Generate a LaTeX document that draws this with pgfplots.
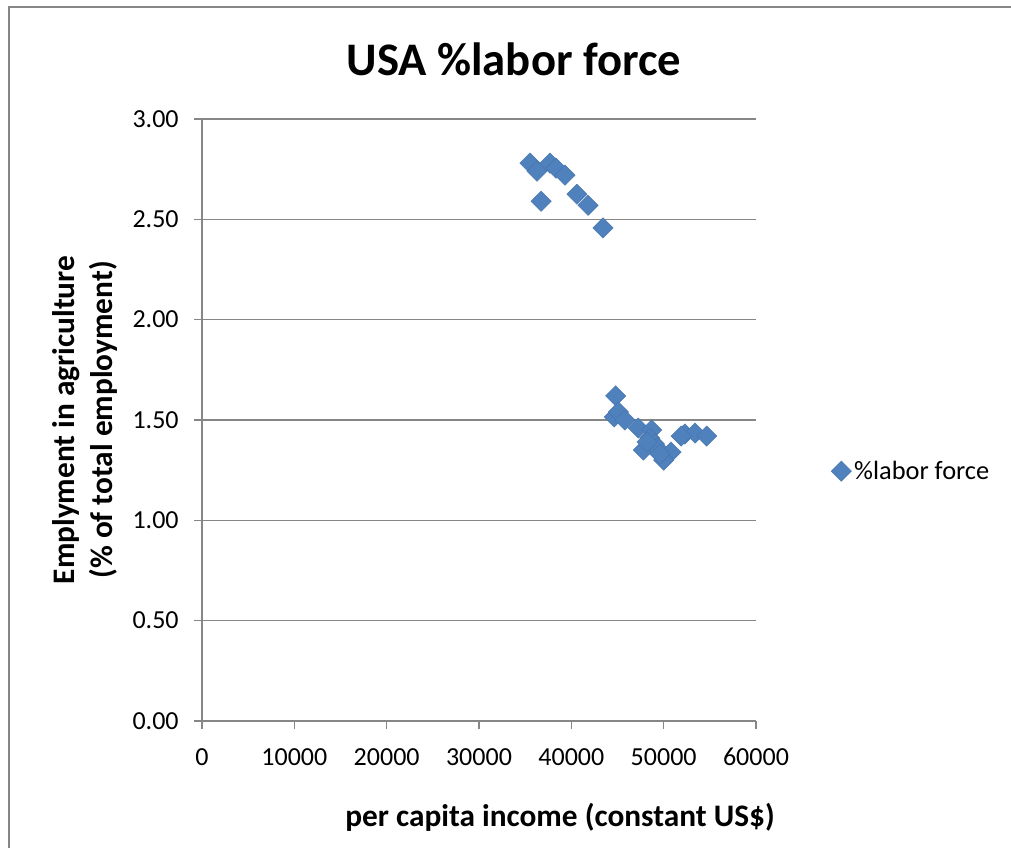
\documentclass[border=0pt]{standalone}
\usepackage{fontspec}
\setmainfont{Carlito}
\usepackage{pgfplots}
\pgfplotsset{compat=1.18}
\definecolor{xlblue}{HTML}{4F81BD}
\definecolor{xlgrid}{HTML}{868686}
\begin{document}
\begin{tikzpicture}[x=0.75pt,y=0.75pt]
\useasboundingbox (0,0) rectangle (1011,848);
\draw[xlgrid, line width=1.5pt] (9,0) -- (9,841) -- (1011,841);
\node[font=\fontsize{35}{40}\selectfont\bfseries] at (514,789) {USA \%labor force};
\node[font=\fontsize{23.5}{28}\selectfont\bfseries] at (560,31) {per capita income (constant US\$)};
\node[font=\fontsize{23.5}{28}\selectfont\bfseries, rotate=90, align=center] at (85,428) {Emplyment in agriculture\\(\% of total employment)};
\begin{axis}[
  at={(151.5pt,95.25pt)}, anchor=south west,
  scale only axis, width=415.5pt, height=451.5pt,
  xmin=0, xmax=60000, ymin=0, ymax=3,
  xtick={0,10000,...,60000},
  ytick={0,0.5,...,3},
  axis lines*=left,
  axis line style={xlgrid, line width=1pt},
  ymajorgrids, grid style={xlgrid, line width=1pt},
  tick style={xlgrid, line width=1pt},
  tick align=outside, major tick length=6pt,
  /pgf/number format/assume math mode=true,
  tick label style={font=\fontsize{19.5}{23}\selectfont},
  xticklabel style={/pgf/number format/set thousands separator={}, yshift=-11pt},
  yticklabel style={/pgf/number format/fixed, /pgf/number format/fixed zerofill, /pgf/number format/precision=2, xshift=-8pt},
  scaled x ticks=false,
  legend style={at={(1.128,0.415)}, anchor=west, draw=none, fill=none, font=\fontsize{19.8}{23}\selectfont},
  legend cell align=left,
  clip=false,
]
\addplot[only marks, mark=square*, mark size=5.4pt, mark options={rotate=45, fill=xlblue, draw=xlblue!90!black, line width=0.3pt}]
coordinates {
(35520,2.78) (36280,2.74) (36720,2.59) (37690,2.78) (38340,2.755) (39310,2.72) (40610,2.625) (41810,2.57) (43430,2.457)
(44800,1.62) (44650,1.515) (45100,1.54) (45800,1.50) (47250,1.46) (48700,1.45) (47800,1.35) (48500,1.41) (49000,1.38)
(49300,1.36) (50800,1.34) (50000,1.30) (49600,1.33) (52300,1.43) (53400,1.435) (54660,1.42) (51900,1.42) (48200,1.39)
};
\addlegendentry{\%labor force}
\end{axis}
\end{tikzpicture}
\end{document}
